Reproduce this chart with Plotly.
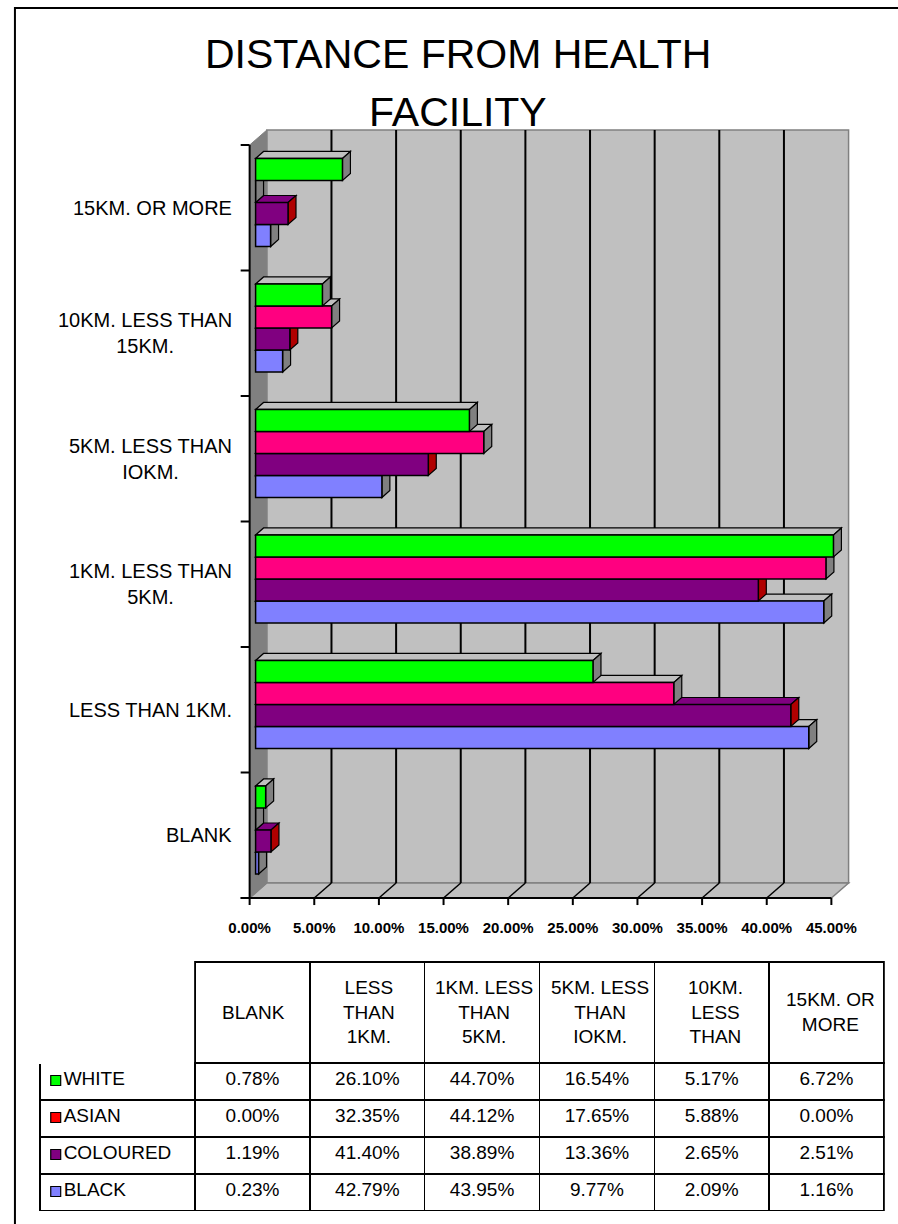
import plotly.graph_objects as go

# ---------------- data ----------------
categories = ["BLANK", "LESS THAN 1KM.", "1KM. LESS THAN 5KM.", "5KM. LESS THAN IOKM.",
              "10KM. LESS THAN 15KM.", "15KM. OR MORE"]
axis_labels = ["BLANK", "LESS THAN 1KM.", "1KM. LESS THAN<br>5KM.", "5KM. LESS THAN<br>IOKM.",
               "10KM. LESS THAN<br>15KM.", "15KM. OR MORE"]
table_headers = ["BLANK", "LESS<br>THAN<br>1KM.", "1KM. LESS<br>THAN<br>5KM.", "5KM. LESS<br>THAN<br>IOKM.",
                 "10KM.<br>LESS<br>THAN", "15KM. OR<br>MORE"]
white = [0.78, 26.10, 44.70, 16.54, 5.17, 6.72]
asian = [0.00, 32.35, 44.12, 17.65, 5.88, 0.00]
coloured = [1.19, 41.40, 38.89, 13.36, 2.65, 2.51]
black = [0.23, 42.79, 43.95, 9.77, 2.09, 1.16]
series_names = ["WHITE", "ASIAN", "COLOURED", "BLACK"]
tick_values = [0, 5, 10, 15, 20, 25, 30, 35, 40, 45]
tick_text = ["%.2f%%" % v for v in tick_values]

# ---------------- styles ----------------
FONT = "Liberation Sans, Arial, sans-serif"
bar_colors = {"WHITE": "#00FF00", "ASIAN": "#FF0080", "COLOURED": "#800080", "BLACK": "#8080FF"}
legend_colors = {"WHITE": "#00FF00", "ASIAN": "#FF0000", "COLOURED": "#800080", "BLACK": "#8080FF"}
top_face = {"WHITE": "#C0C0C0", "ASIAN": "#C0C0C0", "COLOURED": "#800080", "BLACK": "#C0C0C0"}
side_face = {"WHITE": "#808080", "ASIAN": "#808080", "COLOURED": "#B00000", "BLACK": "#808080"}

W, H = 898, 1224
PX_X = 13.0      # px per percent
PX_Y = 125.5     # px per category
X0 = 252         # px of 0 in bar plane
Y0 = 830         # px of category 0 centre in bar plane
FRONT_DX, FRONT_DY = -6 / PX_X, -5.3 / PX_Y
BACK_DX, BACK_DY = 11.3 / PX_X, 9.7 / PX_Y
FACE_DX, FACE_DY = 8 / PX_X, 7 / PX_Y
N = len(categories)
VMAX = tick_values[-1]

xdom_px = (230, 870)
ydom_px = (120, 912)
xrange_ = [(xdom_px[0] - X0) / PX_X, (xdom_px[1] - X0) / PX_X]
yrange_ = [(Y0 - ydom_px[1]) / PX_Y, (Y0 - ydom_px[0]) / PX_Y]

fig = go.Figure()

series = {"WHITE": white, "ASIAN": asian, "COLOURED": coloured, "BLACK": black}
order = ["BLACK", "COLOURED", "ASIAN", "WHITE"]  # bottom to top inside each group
BARGAP = 0.298
ypos = list(range(N))
for name in order:
    fig.add_trace(go.Bar(
        y=ypos, x=series[name], orientation="h", name=name,
        marker=dict(color=bar_colors[name], line=dict(color="black", width=1.5)),
        hovertemplate=name + ": %{x:.2f}%<extra></extra>",
    ))

shapes = []


def poly(pts):
    return "M " + " L ".join("%f,%f" % p for p in pts) + " Z"


yb, yt = -0.5, N - 0.5
# back wall, floor, side wall
shapes.append(dict(type="rect", xref="x", yref="y", layer="below",
                   x0=BACK_DX, x1=VMAX + BACK_DX, y0=yb + BACK_DY, y1=yt + BACK_DY,
                   fillcolor="#C0C0C0", line=dict(color="#808080", width=1.5)))
shapes.append(dict(type="path", xref="x", yref="y", layer="below",
                   path=poly([(FRONT_DX, yb + FRONT_DY), (VMAX + FRONT_DX, yb + FRONT_DY),
                              (VMAX + BACK_DX, yb + BACK_DY), (BACK_DX, yb + BACK_DY)]),
                   fillcolor="#C0C0C0", line=dict(color="#808080", width=1.5)))
shapes.append(dict(type="path", xref="x", yref="y", layer="below",
                   path=poly([(FRONT_DX, yb + FRONT_DY), (FRONT_DX, yt + FRONT_DY),
                              (BACK_DX, yt + BACK_DY), (BACK_DX, yb + BACK_DY)]),
                   fillcolor="#808080", line=dict(color="#808080", width=1)))
# gridlines on back wall and floor
for v in tick_values[1:-1]:
    shapes.append(dict(type="line", xref="x", yref="y", layer="below",
                       x0=v + BACK_DX, x1=v + BACK_DX, y0=yb + BACK_DY, y1=yt + BACK_DY,
                       line=dict(color="black", width=2)))
    shapes.append(dict(type="line", xref="x", yref="y", layer="below",
                       x0=v + BACK_DX, x1=v + FRONT_DX, y0=yb + BACK_DY, y1=yb + FRONT_DY,
                       line=dict(color="black", width=1.5)))
# front axis lines and ticks
tick_left = (237 - X0) / PX_X
shapes.append(dict(type="line", xref="x", yref="y", x0=FRONT_DX, x1=FRONT_DX,
                   y0=yb + FRONT_DY, y1=yt + FRONT_DY, line=dict(color="black", width=2)))
shapes.append(dict(type="line", xref="x", yref="y", x0=tick_left, x1=VMAX + FRONT_DX,
                   y0=yb + FRONT_DY, y1=yb + FRONT_DY, line=dict(color="black", width=2)))
for j in range(N + 1):
    shapes.append(dict(type="line", xref="x", yref="y", x0=tick_left, x1=FRONT_DX,
                       y0=j - 0.5 + FRONT_DY, y1=j - 0.5 + FRONT_DY, line=dict(color="black", width=2)))
for v in tick_values:
    shapes.append(dict(type="line", xref="x", yref="y", x0=v + FRONT_DX, x1=v + FRONT_DX,
                       y0=yb + FRONT_DY, y1=yb + FRONT_DY - 7 / PX_Y, line=dict(color="black", width=2)))

# 3D faces of bars
nt = len(order)
bw = (1 - BARGAP) / nt
for i, name in enumerate(order):
    off = -(1 - BARGAP) / 2 + bw * (i + 0.5)
    for k, v in enumerate(series[name]):
        y0 = k + off - bw / 2
        y1 = k + off + bw / 2
        shapes.append(dict(type="path", xref="x", yref="y", layer="below",
                           path=poly([(0, y1), (v, y1), (v + FACE_DX, y1 + FACE_DY), (FACE_DX, y1 + FACE_DY)]),
                           fillcolor=top_face[name], line=dict(color="black", width=1.2)))
        shapes.append(dict(type="path", xref="x", yref="y", layer="below",
                           path=poly([(v, y0), (v, y1), (v + FACE_DX, y1 + FACE_DY), (v + FACE_DX, y0 + FACE_DY)]),
                           fillcolor=side_face[name], line=dict(color="black", width=1.2)))

# outer frame
shapes.append(dict(type="rect", xref="paper", yref="paper", x0=10 / W, x1=1.02, y0=-0.02, y1=1 - 8 / H,
                   line=dict(color="black", width=2), layer="below"))

annotations = []
for k, lab in enumerate(axis_labels):
    annotations.append(dict(xref="paper", yref="y", x=230 / W, y=k + FRONT_DY, text=lab,
                            xanchor="right", yanchor="middle", align="center", showarrow=False,
                            font=dict(family=FONT, size=20, color="black")))
for txt, ypx in (("DISTANCE FROM HEALTH", 54), ("FACILITY", 112)):
    annotations.append(dict(xref="paper", yref="paper", x=456 / W, y=1 - ypx / H,
                            text=txt, showarrow=False, xanchor="center", yanchor="middle",
                            font=dict(family=FONT, size=41, color="black")))

# data table
TBL_L, TBL_R, TBL_T = 35, 884, 962
HDR_H, ROW_H = 101, 37
COL0_W, COL_W = 157, 116
table_order = ["WHITE", "ASIAN", "COLOURED", "BLACK"]
first_col = ["\u00a0\u00a0\u00a0" + n for n in table_order]
cols = [first_col]
for c in range(N):
    cols.append(["%.2f%%" % series[n][c] for n in table_order])
tbl_bottom = TBL_T + HDR_H + ROW_H * len(table_order)
fig.add_trace(go.Table(
    domain=dict(x=[TBL_L / W, TBL_R / W], y=[1 - tbl_bottom / H, 1 - TBL_T / H]),
    columnwidth=[COL0_W] + [COL_W] * N,
    header=dict(values=[""] * (N + 1), height=HDR_H,
                fill=dict(color="white"),
                line=dict(color=["white"] + ["black"] * N, width=1.5),
                align="center", font=dict(family=FONT, size=19, color="black")),
    cells=dict(values=cols, height=ROW_H, fill=dict(color="white"),
               line=dict(color="black", width=1.5),
               align=["left"] + ["center"] * N,
               font=dict(family=FONT, size=19, color="black")),
))
# header texts (centred line by line)
for c, txt in enumerate(table_headers):
    xc = TBL_L + COL0_W + COL_W * (c + 0.5)
    annotations.append(dict(xref="paper", yref="paper", x=xc / W, y=1 - (TBL_T + HDR_H / 2) / H,
                            text=txt, showarrow=False, xanchor="center", yanchor="middle",
                            align="center", font=dict(family=FONT, size=19, color="black")))
# legend keys in the first table column
for r, n in enumerate(table_order):
    yc = TBL_T + HDR_H + ROW_H * (r + 0.5) - 1
    shapes.append(dict(type="rect", xref="paper", yref="paper",
                       x0=46 / W, x1=56 / W, y0=1 - (yc + 5) / H, y1=1 - (yc - 5) / H,
                       fillcolor=legend_colors[n], line=dict(color="black", width=1.2)))

fig.update_layout(
    width=W, height=H, margin=dict(l=0, r=0, t=0, b=0),
    paper_bgcolor="white", plot_bgcolor="rgba(0,0,0,0)",
    barmode="group", bargap=BARGAP, bargroupgap=0, showlegend=False,
    shapes=shapes, annotations=annotations,
    xaxis=dict(domain=[xdom_px[0] / W, xdom_px[1] / W], range=xrange_, showgrid=False, zeroline=False,
               showline=False, tickmode="array", tickvals=tick_values, ticktext=tick_text,
               ticks="", ticklabelshift=-6, ticklabelstandoff=5,
               tickfont=dict(family=FONT, size=15, color="black", weight="bold")),
    yaxis=dict(domain=[1 - ydom_px[1] / H, 1 - ydom_px[0] / H], range=yrange_, showgrid=False,
               zeroline=False, showline=False, showticklabels=False, ticks=""),
)

fig.write_html("out.html", config={"displayModeBar": False},
               post_script="document.body.style.margin='0';")
